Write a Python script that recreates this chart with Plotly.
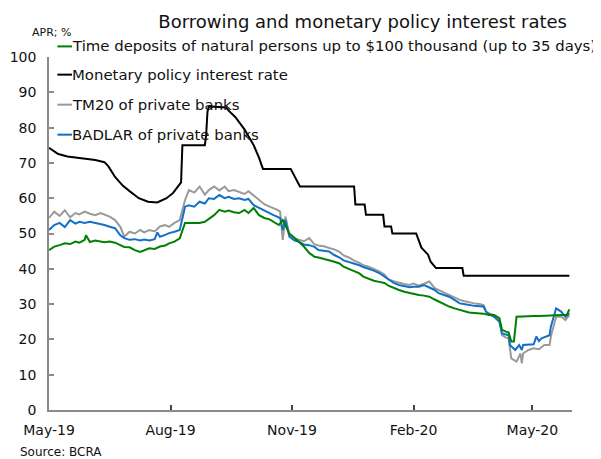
import plotly.graph_objects as go

# ---------------- data ----------------
policy_dates = ["2019-05-01","2019-05-08","2019-05-15","2019-05-25","2019-06-05","2019-06-12","2019-06-15",
                "2019-06-20","2019-06-26","2019-07-01","2019-07-08","2019-07-15","2019-07-22","2019-07-29",
                "2019-08-03","2019-08-07","2019-08-09","2019-08-10","2019-08-27","2019-08-28","2019-08-29",
                "2019-08-30","2019-09-12","2019-09-14","2019-09-19","2019-09-26","2019-10-03","2019-10-07",
                "2019-10-10","2019-10-31","2019-11-03","2019-11-07","2019-12-18","2019-12-19","2019-12-26",
                "2019-12-27","2020-01-09","2020-01-10","2020-01-15","2020-01-16","2020-02-03","2020-02-05",
                "2020-02-07","2020-02-12","2020-02-14","2020-02-18","2020-03-09","2020-03-10","2020-05-29"]
policy_rate = [74.3,72.5,71.8,71.4,70.8,70.2,69.0,
               66.0,63.5,62.0,60.0,59.0,58.8,60.0,
               61.5,63.5,64.5,75.0,75.0,78.0,84.5,
               86.0,85.7,84.8,83.0,79.5,75.0,71.5,
               68.3,68.3,66.0,63.3,63.3,58.2,58.2,
               55.3,55.3,52.0,52.0,50.0,50.0,48.0,
               46.0,44.0,42.0,40.2,40.2,38.0,38.0]

tm20_dates = ["2019-05-01","2019-05-05","2019-05-09","2019-05-13","2019-05-17","2019-05-21","2019-05-24",
              "2019-05-28","2019-06-01","2019-06-05","2019-06-09","2019-06-12","2019-06-16","2019-06-20",
              "2019-06-24","2019-06-27","2019-07-01","2019-07-05","2019-07-09","2019-07-12","2019-07-16",
              "2019-07-20","2019-07-24","2019-07-28","2019-07-31","2019-08-04","2019-08-08","2019-08-12",
              "2019-08-15","2019-08-19","2019-08-23","2019-08-27","2019-08-30","2019-09-03","2019-09-07",
              "2019-09-11","2019-09-14","2019-09-18","2019-09-22","2019-09-26","2019-09-29","2019-10-03",
              "2019-10-07","2019-10-11","2019-10-15","2019-10-18","2019-10-21","2019-10-23","2019-10-25",
              "2019-10-27","2019-10-30","2019-11-03","2019-11-06","2019-11-10","2019-11-14","2019-11-18",
              "2019-11-21","2019-11-25","2019-11-29","2019-12-03","2019-12-07","2019-12-10","2019-12-14",
              "2019-12-18","2019-12-22","2019-12-25","2019-12-29","2020-01-02","2020-01-06","2020-01-10",
              "2020-01-13","2020-01-17","2020-01-21","2020-01-25","2020-01-29","2020-02-01","2020-02-05",
              "2020-02-09","2020-02-13","2020-02-17","2020-02-20","2020-02-24","2020-02-28","2020-03-03",
              "2020-03-07","2020-03-10","2020-03-14","2020-03-18","2020-03-22","2020-03-25","2020-03-27",
              "2020-03-29","2020-04-02","2020-04-06","2020-04-08","2020-04-11","2020-04-13","2020-04-15",
              "2020-04-19","2020-04-22","2020-04-23","2020-04-24","2020-04-28","2020-05-02","2020-05-06",
              "2020-05-10","2020-05-14","2020-05-15","2020-05-19","2020-05-23","2020-05-26","2020-05-29"]
tm20_rate = [54.4,56.2,55.0,56.6,54.6,55.8,55.4,
             56.2,55.6,55.2,55.8,55.4,54.8,53.8,
             51.9,49.1,50.5,50.0,51.0,50.3,51.0,
             50.6,52.0,52.4,51.9,53.0,53.8,59.5,
             62.3,61.6,63.3,61.0,62.3,63.3,62.2,
             63.3,62.0,62.3,61.8,61.2,62.0,60.8,
             59.5,58.3,57.6,57.2,56.7,56.2,48.2,
             54.8,49.6,48.6,48.2,47.8,48.7,46.9,
             46.6,46.4,45.9,45.5,44.8,43.8,43.2,
             42.3,41.7,41.0,40.6,40.0,39.3,38.4,
             37.0,36.5,36.0,35.7,35.4,35.8,35.2,
             35.8,36.4,34.5,34.0,33.3,32.6,31.8,
             31.2,30.9,30.5,30.2,30.0,29.7,27.8,
             27.4,26.9,25.8,21.2,20.5,20.3,14.6,
             13.7,16.0,13.2,16.0,17.0,17.5,17.2,
             18.4,18.4,20.8,26.4,26.4,25.5,26.9]

badlar_dates = ["2019-05-01","2019-05-05","2019-05-09","2019-05-13","2019-05-17","2019-05-21","2019-05-24",
                "2019-05-28","2019-06-01","2019-06-05","2019-06-09","2019-06-12","2019-06-16","2019-06-20",
                "2019-06-24","2019-06-27","2019-07-01","2019-07-05","2019-07-09","2019-07-12","2019-07-16",
                "2019-07-20","2019-07-22","2019-07-24","2019-07-28","2019-07-31","2019-08-04","2019-08-08",
                "2019-08-12","2019-08-15","2019-08-19","2019-08-23","2019-08-27","2019-08-30","2019-09-03",
                "2019-09-07","2019-09-11","2019-09-14","2019-09-18","2019-09-22","2019-09-26","2019-09-29",
                "2019-10-03","2019-10-07","2019-10-11","2019-10-15","2019-10-18","2019-10-21","2019-10-23",
                "2019-10-25","2019-10-27","2019-10-30","2019-11-03","2019-11-06","2019-11-10","2019-11-14",
                "2019-11-18","2019-11-21","2019-11-25","2019-11-29","2019-12-03","2019-12-07","2019-12-10",
                "2019-12-14","2019-12-18","2019-12-22","2019-12-25","2019-12-29","2020-01-02","2020-01-06",
                "2020-01-10","2020-01-13","2020-01-17","2020-01-21","2020-01-25","2020-01-29","2020-02-01",
                "2020-02-05","2020-02-09","2020-02-13","2020-02-17","2020-02-20","2020-02-24","2020-02-28",
                "2020-03-03","2020-03-07","2020-03-10","2020-03-14","2020-03-18","2020-03-22","2020-03-25",
                "2020-03-27","2020-03-29","2020-04-02","2020-04-06","2020-04-08","2020-04-11","2020-04-13",
                "2020-04-14","2020-04-18","2020-04-21","2020-04-23","2020-04-24","2020-04-28","2020-05-02",
                "2020-05-04","2020-05-06","2020-05-08","2020-05-14","2020-05-15","2020-05-19","2020-05-23",
                "2020-05-26","2020-05-29"]
badlar_rate = [51.0,52.4,53.0,51.8,53.8,52.8,53.3,
               53.0,53.3,53.0,52.6,52.4,51.9,51.5,
               49.5,48.7,48.2,48.4,48.0,48.3,48.0,
               48.4,50.3,49.1,49.6,50.1,50.5,51.0,
               57.6,58.0,57.6,59.0,58.5,60.0,59.8,
               60.9,60.0,60.4,59.8,60.0,59.5,59.8,
               58.0,57.3,56.7,55.8,55.2,54.6,54.4,
               51.0,53.8,49.1,48.0,47.7,46.9,46.7,
               46.2,45.3,45.0,44.9,43.9,43.2,42.4,
               42.0,41.4,41.0,40.5,40.1,39.5,38.8,
               37.8,36.8,36.0,35.4,35.1,34.8,34.9,
               34.9,35.4,34.8,34.0,33.1,32.6,32.1,
               31.2,30.2,30.0,29.7,29.5,29.4,29.3,
               27.8,27.2,26.4,25.0,21.7,21.4,21.2,
               18.4,17.0,18.4,17.0,18.4,18.4,18.6,
               20.8,19.5,20.3,21.2,23.6,28.8,27.8,
               26.4,27.4]

deposit_dates = ["2019-05-01","2019-05-05","2019-05-09","2019-05-13","2019-05-17","2019-05-21","2019-05-24",
                 "2019-05-28","2019-05-29","2019-06-01","2019-06-05","2019-06-09","2019-06-12","2019-06-16",
                 "2019-06-20","2019-06-24","2019-06-27","2019-07-01","2019-07-05","2019-07-09","2019-07-12",
                 "2019-07-16","2019-07-20","2019-07-24","2019-07-28","2019-07-31","2019-08-04","2019-08-08",
                 "2019-08-12","2019-08-15","2019-08-19","2019-08-23","2019-08-27","2019-08-30","2019-09-03",
                 "2019-09-07","2019-09-11","2019-09-14","2019-09-18","2019-09-22","2019-09-26","2019-09-29",
                 "2019-10-03","2019-10-07","2019-10-11","2019-10-15","2019-10-18","2019-10-22","2019-10-25",
                 "2019-10-27","2019-10-30","2019-11-03","2019-11-06","2019-11-10","2019-11-14","2019-11-18",
                 "2019-11-21","2019-11-25","2019-11-29","2019-12-03","2019-12-07","2019-12-10","2019-12-14",
                 "2019-12-18","2019-12-22","2019-12-25","2019-12-29","2020-01-02","2020-01-06","2020-01-10",
                 "2020-01-13","2020-01-17","2020-01-21","2020-01-25","2020-01-29","2020-02-01","2020-02-05",
                 "2020-02-09","2020-02-13","2020-02-17","2020-02-20","2020-02-24","2020-02-28","2020-03-03",
                 "2020-03-07","2020-03-10","2020-03-14","2020-03-18","2020-03-22","2020-03-25","2020-03-29",
                 "2020-04-02","2020-04-06","2020-04-08","2020-04-11","2020-04-13","2020-04-15","2020-04-17",
                 "2020-04-19","2020-04-23","2020-04-28","2020-05-02","2020-05-06","2020-05-10","2020-05-14",
                 "2020-05-19","2020-05-23","2020-05-27","2020-05-29"]
deposit_rate = [45.3,46.3,46.7,47.2,47.0,47.7,47.4,
                48.2,49.5,47.6,48.0,47.8,47.5,47.7,
                47.4,46.7,46.2,46.1,45.3,44.8,45.2,
                45.8,45.6,46.3,46.6,47.2,47.7,48.6,
                53.0,53.0,52.8,53.0,53.3,54.2,55.2,
                56.7,56.2,56.5,56.0,55.8,56.7,55.8,
                57.2,55.2,54.4,54.0,53.3,52.4,53.8,
                52.4,50.0,48.7,47.7,46.3,44.5,43.4,
                43.2,42.7,42.4,42.0,41.5,40.6,40.0,
                39.5,38.7,37.8,37.2,36.6,36.3,36.0,
                35.2,34.5,34.0,33.5,33.1,32.9,32.6,
                32.4,32.1,31.3,30.7,30.0,29.3,28.8,
                28.3,28.0,27.6,27.5,27.4,27.3,26.9,
                26.9,26.0,22.7,22.2,22.0,19.4,19.4,
                26.4,26.5,26.5,26.6,26.6,26.7,26.8,
                26.9,26.9,26.9,28.5]

series_names = ["Time deposits of natural persons up to $100 thousand (up to 35 days)",
                "Monetary policy interest rate",
                "TM20 of private banks",
                "BADLAR of private banks"]
series_colors = ["#008000", "#000000", "#9a9a9a", "#1170c8"]

tick_dates = ["2019-05-01", "2019-08-01", "2019-11-01", "2020-02-01", "2020-05-01"]
tick_labels = ["May-19", "Aug-19", "Nov-19", "Feb-20", "May-20"]

FONT = "DejaVu Sans"

fig = go.Figure()
fig.add_trace(go.Scatter(x=policy_dates, y=policy_rate, mode="lines", name=series_names[1],
                         line=dict(color=series_colors[1], width=2)))
fig.add_trace(go.Scatter(x=tm20_dates, y=tm20_rate, mode="lines", name=series_names[2],
                         line=dict(color=series_colors[2], width=2)))
fig.add_trace(go.Scatter(x=badlar_dates, y=badlar_rate, mode="lines", name=series_names[3],
                         line=dict(color=series_colors[3], width=2)))
fig.add_trace(go.Scatter(x=deposit_dates, y=deposit_rate, mode="lines", name=series_names[0],
                         line=dict(color=series_colors[0], width=2)))

# custom legend (short line samples like the original)
leg_y = [1.030, 0.950, 0.865, 0.780]
shapes = []
annotations = []
for name, color, yy in zip(series_names, series_colors, leg_y):
    shapes.append(dict(type="line", xref="paper", yref="paper", x0=0.016, x1=0.044, y0=yy, y1=yy,
                       line=dict(color=color, width=2)))
    annotations.append(dict(text=name, xref="paper", yref="paper", x=0.040, y=yy, xanchor="left",
                            yanchor="middle", showarrow=False,
                            font=dict(family=FONT, size=14.9, color="#111")))

annotations.append(dict(text="APR; %", xref="paper", yref="paper", x=-0.037, y=1.068, xanchor="left",
                        yanchor="middle", showarrow=False, font=dict(family=FONT, size=11, color="#111")))
annotations.append(dict(text="Source: BCRA", xref="paper", yref="paper", x=-0.060, y=-0.118,
                        xanchor="left", yanchor="middle", showarrow=False,
                        font=dict(family=FONT, size=12, color="#111")))

fig.update_layout(
    width=593, height=451,
    margin=dict(l=41, r=29, t=49, b=49),
    paper_bgcolor="white", plot_bgcolor="white",
    showlegend=False,
    title=dict(text="Borrowing and monetary policy interest rates", x=0.598, xanchor="center",
               y=0.969, yanchor="middle", font=dict(family=FONT, size=18, color="#111")),
    font=dict(family=FONT, size=14, color="#111"),
    shapes=shapes,
    annotations=annotations,
    xaxis=dict(range=["2019-05-01", "2020-05-31"], tickvals=tick_dates, ticktext=tick_labels,
               showgrid=False, zeroline=False, showline=True, linecolor="#8a8a8a", linewidth=1.5,
               ticks="inside", ticklen=5, tickcolor="#444", tickwidth=1.5, automargin=False,
               tickfont=dict(family=FONT, size=14, color="#111"), ticklabelstandoff=6),
    yaxis=dict(range=[0, 100], dtick=10, showgrid=False, zeroline=False, showline=True,
               linecolor="#8a8a8a", linewidth=1.5, ticks="inside", ticklen=5, tickcolor="#8a8a8a",
               tickwidth=1.5, automargin=False,
               tickfont=dict(family=FONT, size=14, color="#111"), ticklabelstandoff=8),
)

fig.write_html("out.html")
